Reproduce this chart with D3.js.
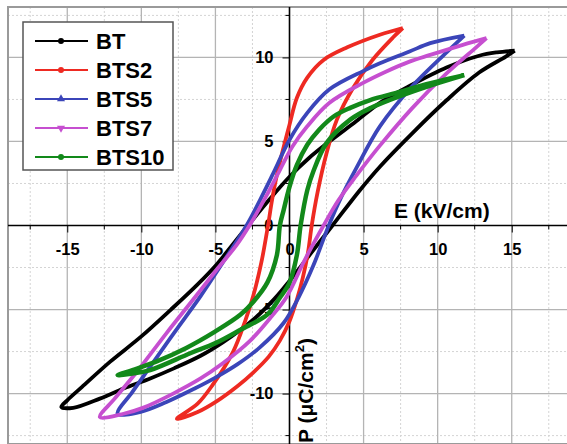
<!DOCTYPE html>
<html>
<head>
<meta charset="utf-8">
<script src="https://cdn.jsdelivr.net/npm/d3@7"></script>
<style>
  body { margin: 0; background: #fff; }
  text { font-family: Arial, "Liberation Sans", sans-serif; font-weight: bold; }
</style>
</head>
<body>
<div id="chart"></div>
<script>

// P-E loops, [E (kV/cm), P (uC/cm2)], upper branch from +Emax then lower branch back
let bt = [
    [15.2, 10.4], [14.0, 10.3], [12.8, 10.1], [10.6, 9.4], [8.1, 8.3], [6.1, 7.3], [4.5, 6.2],
    [2.7, 5.0], [1.3, 4.0], [0, 2.9], [-1.4, 1.5], [-2.8, 0], [-3.8, -1.1], [-4.9, -2.3],
    [-6.2, -3.5], [-8.0, -5.0], [-10.0, -6.6], [-12.1, -8.1], [-14.0, -9.6], [-15.0, -10.4],
    [-15.4, -10.8], [-14.6, -10.85], [-12.8, -10.3], [-11.2, -9.7], [-9.4, -9.1], [-7.8, -8.5],
    [-6.0, -7.75], [-4.5, -6.95], [-3.3, -6.2], [-2.0, -5.25], [-1.0, -4.35], [0, -3.3], [1.4, -1.7],
    [2.9, 0], [4.75, 2.1], [6.1, 3.5], [8.3, 5.5], [10.6, 7.45], [12.8, 9.1], [14.6, 10.05], [15.2, 10.4]
];
let bts2 = [
    [7.65, 11.75], [6.1, 11.35], [3.9, 10.6], [2.3, 9.85], [1.2, 8.8], [0.5, 7.6], [0, 6.0],
    [-0.5, 4.3], [-0.9, 2.8], [-1.2, 1.4], [-1.45, 0], [-1.9, -2.2], [-2.45, -4.2], [-3.0, -5.7],
    [-3.8, -7.5], [-5.2, -9.5], [-6.2, -10.6], [-7.6, -11.5],
    [-6.2, -11.1], [-4.9, -10.45], [-3.5, -9.55], [-2.45, -8.75], [-1.4, -7.8], [-0.65, -6.85], [0, -5.7],
    [0.5, -4.4], [0.9, -3.1], [1.25, -1.6], [1.5, 0], [1.9, 2.0], [2.5, 4.3], [3.2, 6.3],
    [4.3, 8.2], [5.6, 9.85], [7.0, 11.2], [7.65, 11.75]
];
let bts5 = [
    [11.8, 11.3], [9.5, 10.85], [8.1, 10.35], [6.1, 9.65], [5.0, 9.2], [2.7, 8.1], [1.2, 6.7],
    [0, 5.1], [-1.1, 3.1], [-2.0, 1.5], [-2.9, 0], [-4.5, -2.2], [-6.0, -4.2], [-7.8, -6.4],
    [-9.4, -8.4], [-10.6, -9.9], [-11.6, -11.2],
    [-10.1, -11.1], [-8.3, -10.5], [-6.4, -9.7], [-5.0, -9.05], [-3.5, -8.25], [-2.0, -7.25],
    [-0.4, -5.8], [0.6, -4.3], [1.6, -2.4], [2.65, 0], [3.5, 1.7], [4.5, 3.4], [6.1, 5.9],
    [8.3, 8.3], [10.6, 10.3], [11.8, 11.3]
];
let bts7 = [
    [13.3, 11.15], [11.7, 10.75], [9.5, 10.15], [8.1, 9.75], [6.5, 9.15], [5.0, 8.5], [2.7, 7.3],
    [1.2, 5.9], [0.2, 4.7], [-0.65, 3.3], [-1.6, 1.7], [-2.7, 0], [-3.6, -1.2], [-4.8, -2.5],
    [-6.5, -4.4], [-8.3, -6.4], [-10.3, -8.7], [-11.8, -10.3], [-12.8, -11.4],
    [-11.2, -11.2], [-9.9, -10.85], [-7.85, -10.0], [-6.0, -9.1], [-4.5, -8.2], [-2.65, -6.85],
    [-1.2, -5.4], [-0.2, -4.25], [1.0, -2.1], [2.3, 0], [3.3, 1.5], [4.5, 2.95], [6.1, 4.75],
    [8.3, 7.0], [10.6, 9.05], [12.6, 10.6], [13.3, 11.15]
];
let bts10 = [
    [11.8, 8.95], [10.6, 8.7], [9.0, 8.35], [7.45, 7.95], [5.4, 7.45], [4.1, 7.0], [3.0, 6.5],
    [2.0, 5.7], [1.2, 4.8], [0.5, 3.6], [0, 2.3], [-0.4, 0.9], [-0.65, 0], [-0.85, -1.75],
    [-1.5, -3.4], [-2.45, -4.55], [-3.3, -5.3], [-5.0, -6.3], [-7.0, -7.3], [-9.0, -8.1],
    [-10.6, -8.6], [-11.6, -8.9],
    [-10.6, -8.8], [-9.4, -8.6], [-6.7, -7.6], [-5.0, -7.0], [-3.3, -6.2], [-1.5, -5.3],
    [-0.65, -4.3], [0, -3.4], [0.5, -1.75], [0.75, 0], [1.2, 2.1], [1.6, 3.2], [2.5, 4.9],
    [4.1, 6.3], [5.5, 7.0], [7.45, 7.7], [9.4, 8.3], [11.8, 8.95]
];

let seriesNames = ['BT', 'BTS2', 'BTS5', 'BTS7', 'BTS10'];
let seriesData = [bt, bts2, bts5, bts7, bts10];
let seriesColors = ['#000000', '#ee2a22', '#3b45b9', '#c64fd0', '#12891a'];
let seriesSymbols = [d3.symbolCircle, d3.symbolCircle, d3.symbolTriangle, d3.symbolTriangle, d3.symbolCircle];

let xTicks = [-15, -10, -5, 0, 5, 10, 15];
let xTickLabels = ['-15', '-10', '-5', '0', '5', '10', '15'];
let yTicks = [-10, -5, 0, 5, 10];
let yTickLabels = ['-10', '-5', '0', '5', '10'];
let xMinor = [-17.5, -12.5, -7.5, -2.5, 2.5, 7.5, 12.5, 17.5];
let yMinor = [-12.5, -7.5, -2.5, 2.5, 7.5, 12.5];

var width = 567,
    height = 444;

var x = d3.scaleLinear().domain([-19, 19]).range([8, 571]);
var y = d3.scaleLinear().domain([-13, 13]).range([444, 7]);

var svg = d3.select('#chart').append('svg')
    .attr('width', width)
    .attr('height', height);

// grid
svg.append('g').selectAll('line')
    .data(xMinor).enter().append('line')
    .attr('x1', d => x(d)).attr('x2', d => x(d))
    .attr('y1', y(13)).attr('y2', y(-13))
    .attr('stroke', '#d4d4d4').attr('stroke-dasharray', '2,2');
svg.append('g').selectAll('line')
    .data(yMinor).enter().append('line')
    .attr('y1', d => y(d)).attr('y2', d => y(d))
    .attr('x1', x(-19)).attr('x2', x(19))
    .attr('stroke', '#d4d4d4').attr('stroke-dasharray', '2,2');
svg.append('g').selectAll('line')
    .data(xTicks.filter(d => d != 0)).enter().append('line')
    .attr('x1', d => x(d)).attr('x2', d => x(d))
    .attr('y1', y(13)).attr('y2', y(-13))
    .attr('stroke', '#b4b4b4').attr('stroke-width', 1.3);
svg.append('g').selectAll('line')
    .data(yTicks.filter(d => d != 0)).enter().append('line')
    .attr('y1', d => y(d)).attr('y2', d => y(d))
    .attr('x1', x(-19)).attr('x2', x(19))
    .attr('stroke', '#b4b4b4').attr('stroke-width', 1.3);

// frame
svg.append('rect')
    .attr('x', x(-19)).attr('y', y(13))
    .attr('width', x(19) - x(-19)).attr('height', y(-13) - y(13))
    .attr('fill', 'none').attr('stroke', '#9a9a9a').attr('stroke-width', 2);

// axes through the origin
var xAxis = d3.axisBottom(x)
    .tickValues(xTicks)
    .tickFormat((d, i) => xTickLabels[i])
    .tickSize(7).tickPadding(11);
var gx = svg.append('g').attr('transform', 'translate(0,' + y(0) + ')').call(xAxis);
gx.select('.domain').attr('d', 'M' + x(-19) + ',0H' + x(19)).attr('stroke-width', 1.6);
gx.selectAll('text').attr('font-size', 16.5).attr('font-weight', 'bold').attr('fill', '#000');
gx.selectAll('.minor').data(xMinor).enter().append('line')
    .attr('class', 'minor')
    .attr('x1', d => x(d)).attr('x2', d => x(d))
    .attr('y1', 0).attr('y2', 4).attr('stroke', '#000');

var yAxis = d3.axisLeft(y)
    .tickValues(yTicks)
    .tickFormat((d, i) => yTickLabels[i])
    .tickSize(7).tickPadding(9);
var gy = svg.append('g').attr('transform', 'translate(' + x(0) + ',0)').call(yAxis);
gy.select('.domain').attr('d', 'M0,' + y(13) + 'V' + y(-13)).attr('stroke-width', 1.6);
gy.selectAll('text').attr('font-size', 16.5).attr('font-weight', 'bold').attr('fill', '#000');
gy.selectAll('.minor').data(yMinor).enter().append('line')
    .attr('class', 'minor')
    .attr('y1', d => y(d)).attr('y2', d => y(d))
    .attr('x1', 0).attr('x2', -4).attr('stroke', '#000');

// axis titles
svg.append('text')
    .attr('x', 394).attr('y', 218)
    .attr('font-size', 21)
    .text('E (kV/cm)');

var ptitle = svg.append('text')
    .attr('transform', 'translate(313,443) rotate(-90)')
    .attr('font-size', 21);
ptitle.append('tspan').text('P (\u03bcC/cm');
ptitle.append('tspan').attr('font-size', 13).attr('dy', -9).text('2');
ptitle.append('tspan').attr('dy', 9).text(')');

// loops
var line = d3.line()
    .x(d => x(d[0]))
    .y(d => y(d[1]))
    .curve(d3.curveCatmullRom.alpha(0.5));

svg.append('g').selectAll('path')
    .data(seriesData).enter().append('path')
    .attr('d', d => line(d))
    .attr('fill', 'none')
    .attr('stroke', (d, i) => seriesColors[i])
    .attr('stroke-width', (d, i) => i == 4 ? 4.5 : 3.8)
    .attr('stroke-linejoin', 'round');

// legend
var legend = svg.append('g');
legend.append('rect')
    .attr('x', 23).attr('y', 22).attr('width', 150).attr('height', 148)
    .attr('fill', '#fff').attr('stroke', '#555').attr('stroke-width', 1.5);

var rows = legend.selectAll('.row')
    .data(seriesNames).enter().append('g')
    .attr('class', 'row')
    .attr('transform', (d, i) => 'translate(0,' + (41 + i * 29) + ')');
rows.append('line')
    .attr('x1', 35).attr('x2', 88)
    .attr('stroke', (d, i) => seriesColors[i]).attr('stroke-width', 2.2);
rows.append('path')
    .attr('d', (d, i) => d3.symbol().type(seriesSymbols[i]).size(28)())
    .attr('transform', (d, i) => 'translate(61,0)' + (i == 3 ? ' rotate(180)' : ''))
    .attr('fill', (d, i) => seriesColors[i]);
rows.append('text')
    .attr('x', 96).attr('y', 8)
    .attr('font-size', 22)
    .text(d => d);

</script>
</body>
</html>
